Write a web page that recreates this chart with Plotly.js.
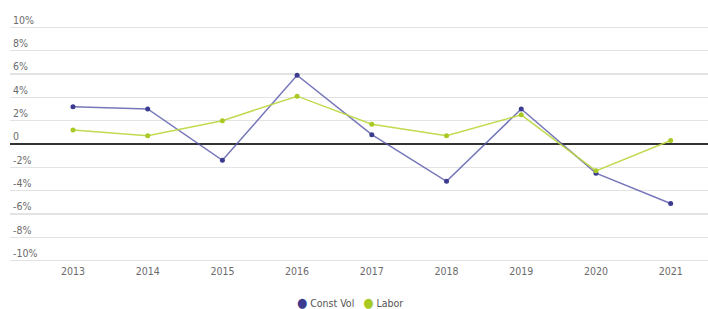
<!DOCTYPE html>
<html>
<head>
<meta charset="utf-8">
<script src="https://cdn.plot.ly/plotly-3.0.1.min.js"></script>
<style>html,body{margin:0;padding:0;background:#fff;}#chart{width:708px;height:309px;}</style>
</head>
<body>
<div id="chart"></div>
<script>
const years = ["2013","2014","2015","2016","2017","2018","2019","2020","2021"];
const constVol = [3.2, 3.0, -1.4, 5.9, 0.8, -3.2, 3.0, -2.5, -5.1];
const labor = [1.2, 0.7, 2.0, 4.1, 1.7, 0.7, 2.5, -2.3, 0.3];
const yTickVals = [10, 8, 6, 4, 2, 0, -2, -4, -6, -8, -10];
const yTickText = ["10%", "8%", "6%", "4%", "2%", "0", "-2%", "-4%", "-6%", "-8%", "-10%"];
const seriesNames = ["Const Vol", "Labor"];

const fontFam = "'DejaVu Sans Condensed', 'Liberation Sans Narrow', sans-serif";
const lineCols = ["rgba(85,85,170,0.8)", "rgba(185,215,60,0.9)"];
const dotCols = ["#3b3b8f", "#a9c925"];

const traces = [
  {
    x: years, y: constVol, name: seriesNames[0], type: "scatter", mode: "lines+markers",
    line: {color: lineCols[0], width: 1.5}, marker: {color: dotCols[0], size: 5}
  },
  {
    x: years, y: labor, name: seriesNames[1], type: "scatter", mode: "lines+markers",
    line: {color: lineCols[1], width: 1.5}, marker: {color: dotCols[1], size: 5}
  }
];

const legendText = seriesNames.map((n, i) =>
  `<span style="color:${dotCols[i]};font-size:13px">●</span> ${n}`).join("&nbsp;&nbsp;&nbsp;");

const layout = {
  width: 708, height: 309,
  margin: {l: 10, r: 0, t: 11, b: 46, autoexpand: false},
  paper_bgcolor: "#fff", plot_bgcolor: "#fff",
  font: {family: fontFam, size: 10.5, color: "#6b6b6b"},
  showlegend: false,
  annotations: [{
    xref: "paper", yref: "paper", x: 0.487, y: -0.155, xanchor: "center", yanchor: "middle",
    showarrow: false, text: legendText, font: {size: 10.5, color: "#555"}
  }],
  xaxis: {
    type: "category", range: [-0.843, 8.5],
    showgrid: false, zeroline: false, showline: false, ticks: "",
    tickfont: {size: 10.5, color: "#6b6b6b"}
  },
  yaxis: {
    range: [-10.2, 11.4], tickvals: yTickVals, ticktext: yTickText,
    ticklabelposition: "inside top",
    showgrid: true, gridcolor: "#e3e3e3", gridwidth: 1.5,
    zeroline: true, zerolinecolor: "#333", zerolinewidth: 2,
    showline: false, ticks: "",
    tickfont: {size: 10.5, color: "#6b6b6b"}
  }
};

Plotly.newPlot("chart", traces, layout, {displayModeBar: false, staticPlot: true});
</script>
</body>
</html>
